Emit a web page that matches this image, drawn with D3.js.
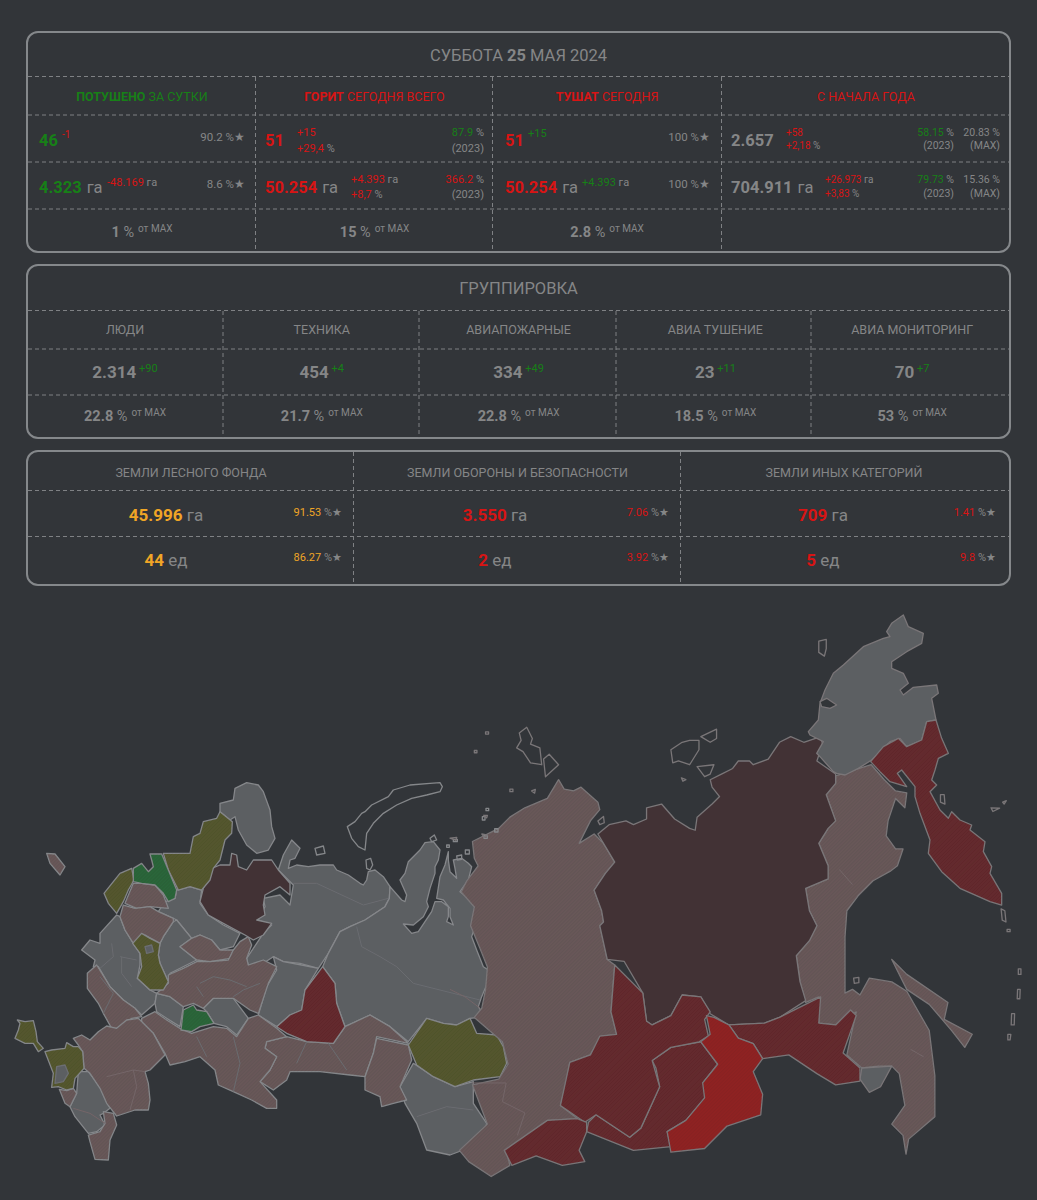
<!DOCTYPE html>
<html>
<head>
<meta charset="utf-8">
<script src="https://cdn.jsdelivr.net/npm/d3@7"></script>
<style>
  html, body { margin: 0; background: #323539; }
  svg { display: block; font-family: Roboto, sans-serif; }
  .dash { stroke: #7f8184; stroke-width: 1; stroke-dasharray: 4 3; }
  .box { fill: none; stroke: #85888b; stroke-width: 2; }
  .g { fill: #858687; }
  .gr { fill: #178017; }
  .r { fill: #d81414; }
  .o { fill: #f0a526; }
  .b { font-weight: 700; }
</style>
</head>
<body>
<svg id="chart" width="1037" height="1200"></svg>
<script>
// top panel
const dateTitle = [['СУББОТА ', 'g'], ['25', 'g b'], [' МАЯ 2024', 'g']];
const topHeaders = [
  [['ПОТУШЕНО', 'gr b'], [' ЗА СУТКИ', 'gr']],
  [['ГОРИТ', 'r b'], [' СЕГОДНЯ ВСЕГО', 'r']],
  [['ТУШАТ', 'r b'], [' СЕГОДНЯ', 'r']],
  [['С НАЧАЛА ГОДА', 'r']]
];
const topCounts = ['46', '51', '51', '2.657'];
const topCountClass = ['gr', 'r', 'r', 'g'];
const topCountDelta = ['-1', '+15', '+15', '+58'];
const topCountDeltaClass = ['r', 'r', 'gr', 'r'];
const topCountDeltaPct = ['', '+29,4', '', '+2,18'];
const topCountShare = ['90.2', '87.9', '100', '58.15'];
const topAreas = ['4.323', '50.254', '50.254', '704.911'];
const topAreaDelta = ['-48.169', '+4.393', '+4.393', '+26.973'];
const topAreaDeltaPct = ['', '+8,7', '', '+3,83'];
const topAreaShare = ['8.6', '366.2', '100', '79.73'];
const topMaxCount = '20.83';
const topMaxArea = '15.36';
const topOfMax = ['1', '15', '2.8'];

// force grouping panel
const forceTitle = 'ГРУППИРОВКА';
const forceHeaders = ['ЛЮДИ', 'ТЕХНИКА', 'АВИАПОЖАРНЫЕ', 'АВИА ТУШЕНИЕ', 'АВИА МОНИТОРИНГ'];
const forceValues = ['2.314', '454', '334', '23', '70'];
const forceDelta = ['+90', '+4', '+49', '+11', '+7'];
const forceOfMax = ['22.8', '21.7', '22.8', '18.5', '53'];

// land panel
const landHeaders = ['ЗЕМЛИ ЛЕСНОГО ФОНДА', 'ЗЕМЛИ ОБОРОНЫ И БЕЗОПАСНОСТИ', 'ЗЕМЛИ ИНЫХ КАТЕГОРИЙ'];
const landClass = ['o', 'r', 'r'];
const landArea = ['45.996', '3.550', '709'];
const landAreaPct = ['91.53', '7.06', '1.41'];
const landCount = ['44', '2', '5'];
const landCountPct = ['86.27', '3.92', '9.8'];

// map outlines in sheets of map units
const westGrey = [
  [[660,100],[700,90],[705,55],[740,38],[775,45],[790,65],[810,120],[815,170],[825,205],[805,240],[770,250],[740,225],[715,180],[705,140],[690,150],[660,125]],
  [[875,210],[900,235],[885,265],[870,270],[865,295],[890,285],[925,290],[960,285],[1000,285],[1010,300],[1045,315],[1080,340],[1090,345],[1100,330],[1105,305],[1125,300],[1150,320],[1170,350],[1168,385],[1155,410],[1095,450],[1050,470],[1020,485],[985,550],[955,595],[900,580],[850,575],[820,560],[790,580],[745,590],[740,565],[770,520],[790,490],[815,465],[775,450],[795,410],[790,385],[840,375],[870,405],[880,345],[835,300],[850,255]],
  [[1170,350],[1205,390],[1215,395],[1220,375],[1200,330],[1215,310],[1225,275],[1260,240],[1275,218],[1300,215],[1320,240],[1315,270],[1305,290],[1305,310],[1290,355],[1280,395],[1285,410],[1270,440],[1240,465],[1210,462],[1235,490],[1255,485],[1295,425],[1305,395],[1325,395],[1345,410],[1345,440],[1340,455],[1360,465],[1350,440],[1350,415],[1330,390],[1310,385],[1320,320],[1335,285],[1345,245],[1345,270],[1350,305],[1370,325],[1365,295],[1360,270],[1385,265],[1405,280],[1415,290],[1405,330],[1380,365],[1425,400],[1425,470],[1415,500],[1430,540],[1450,590],[1465,600],[1462,640],[1445,680],[1435,710],[1455,740],[1410,745],[1370,765],[1330,760],[1280,745],[1225,815],[1170,770],[1110,735],[1035,770],[1010,700],[1005,640],[968,590],[985,550],[1020,485],[1050,470],[1095,450],[1155,410],[1168,385]],
  [[820,560],[850,575],[905,585],[955,595],[915,660],[905,720],[870,735],[830,770],[775,735],[800,650],[830,600]],
  [[1240,880],[1300,920],[1365,950],[1420,935],[1420,1000],[1460,1060],[1450,1110],[1390,1140],[1350,1155],[1280,1140],[1250,1060],[1215,1000],[1200,950]]
];
const centreGrey = [
  [[255,185],[285,175],[290,150],[330,140],[365,150],[360,190],[385,225],[430,255],[480,280],[460,320],[420,330],[395,300],[360,285],[335,295],[290,240],[280,235],[235,215]],
  [[110,225],[120,230],[135,270],[160,310],[180,340],[180,375],[172,415],[210,450],[230,460],[225,490],[185,525],[165,505],[130,480],[90,440],[55,380],[40,380],[45,360],[5,330],[30,300],[60,310],[60,280]],
  [[240,310],[250,290],[280,245],[290,240],[335,295],[300,320],[350,360],[270,400],[265,425],[240,370],[235,345]],
  [[230,460],[270,470],[310,500],[300,560],[260,535],[230,515],[225,490]],
  [[370,505],[400,475],[460,475],[505,535],[470,585],[440,560],[402,550],[380,515]],
  [[195,320],[215,315],[220,335],[200,340]]
];
const southGrey = [
  [[305,165],[335,130],[340,70],[365,60],[395,85],[425,115],[460,165],[415,190],[310,195]],
  [[205,215],[235,215],[270,260],[300,325],[280,340],[270,345],[285,375],[260,395],[235,400],[195,350],[180,320],[200,280]],
  [[140,200],[165,195],[175,220],[160,245],[135,250]]
];
const westPink = [
  [[860,800],[920,815],[1000,820],[1035,770],[1110,735],[1170,770],[1225,820],[1130,800],[1120,850],[1095,920],[1050,915],[960,905],[870,905],[860,930],[820,960],[780,935],[810,900],[830,860],[795,835],[800,815]],
  [[1130,805],[1225,825],[1235,870],[1200,950],[1220,990],[1180,1000],[1145,1010],[1140,980],[1095,960],[1095,920],[1120,850]],
  [[425,745],[465,725],[500,750],[540,775],[575,790],[640,770],[680,775],[710,800],[745,745],[775,735],[830,775],[860,800],[800,815],[795,835],[830,860],[810,900],[780,935],[830,990],[830,1015],[800,1015],[755,990],[700,965],[655,945],[645,900],[600,860],[555,875],[510,885],[495,850],[460,790],[425,765]],
  [[140,250],[165,252],[195,290],[180,315],[150,280]]
];
const centrePink = [
  [[160,130],[185,130],[225,135],[250,165],[265,205],[210,200],[170,205],[135,190]],
  [[120,230],[130,195],[165,205],[210,200],[235,215],[280,235],[280,245],[250,290],[240,310],[195,285],[160,310],[135,270]],
  [[300,320],[335,295],[360,285],[395,300],[420,330],[460,330],[450,355],[390,365],[350,360]],
  [[265,405],[310,385],[350,365],[390,365],[445,360],[460,330],[480,305],[505,290],[515,315],[500,355],[505,375],[550,360],[590,380],[565,430],[535,520],[510,510],[460,475],[400,475],[370,505],[340,490],[310,500],[270,470],[230,460],[265,430]],
  [[22,400],[50,375],[90,440],[130,480],[165,505],[185,530],[155,535],[120,565],[95,565],[70,520],[55,490],[22,445]]
];
const southPink = [
  [[190,115],[215,105],[240,120],[265,95],[290,78],[320,85],[350,60],[385,55],[430,100],[465,165],[420,210],[405,215],[415,250],[420,300],[415,330],[375,330],[320,348],[290,310],[270,265],[240,220],[222,205],[218,155],[205,135]],
  [[235,405],[270,395],[285,370],[280,335],[310,340],[320,375],[300,420],[295,480],[255,478],[240,425]],
  [[148,268],[170,272],[190,265],[200,280],[180,320],[165,310]]
];
const centreMaroon = [
  [[395,85],[420,75],[450,75],[455,40],[470,45],[475,80],[500,90],[520,60],[575,60],[595,90],[630,130],[630,165],[600,140],[555,165],[550,195],[555,225],[530,240],[575,250],[550,285],[520,300],[495,285],[430,250],[385,225],[360,185],[370,145]]
];
const westDarkRed = [
  [[968,590],[1005,640],[1010,700],[1035,770],[1000,820],[920,815],[860,790],[830,770],[870,735],[905,720],[915,660]]
];
const westOlive = [
  [[660,125],[697,155],[695,190],[675,210],[660,270],[640,295],[630,330],[605,360],[570,350],[535,360],[505,300],[490,250],[570,250],[580,200],[600,190],[610,155],[650,145]],
  [[1280,745],[1330,760],[1370,765],[1410,745],[1430,790],[1490,795],[1510,830],[1520,880],[1500,920],[1420,930],[1365,950],[1300,920],[1250,885],[1225,825]]
];
const centreOlive = [
  [[155,85],[162,120],[145,150],[130,185],[110,220],[85,190],[72,160],[100,125],[120,100]],
  [[185,280],[210,295],[240,310],[235,345],[240,370],[265,425],[250,450],[210,450],[172,415],[185,380],[180,340],[158,310]]
];
const southOlive = [
  [[22,60],[45,65],[70,62],[78,95],[82,125],[100,145],[85,155],[70,130],[45,130],[15,115],[25,90],[30,70]],
  [[105,155],[125,150],[165,145],[170,128],[190,140],[205,140],[218,155],[222,205],[195,235],[190,265],[170,270],[145,260],[125,262],[130,220]]
];
const centreGreen = [
  [[210,42],[245,42],[265,90],[290,150],[285,175],[265,185],[250,160],[225,135],[185,130],[160,125],[160,85],[185,70],[205,95],[220,80],[215,60]],
  [[310,510],[340,495],[350,510],[380,515],[402,550],[360,560],[335,575],[303,570]]
];
const eastPink = [
  [[290,480],[305,505],[330,510],[350,500],[395,540],[400,560],[375,590],[345,650],[385,625],[410,650],[440,700],[415,730],[385,775],[405,830],[410,860],[400,870],[420,960],[440,975],[430,1100],[445,1160],[405,1165],[375,1215],[320,1235],[310,1290],[295,1350],[340,1385],[260,1390],[150,1470],[160,1510],[110,1540],[50,1500],[25,1470],[100,1400],[60,1295],[130,1280],[155,1240],[140,1180],[65,1115],[85,1090],[95,1040],[100,980],[80,930],[55,870],[65,820],[30,780],[45,750],[75,710],[65,690],[60,645],[130,610],[160,580],[200,555],[260,530]],
  [[1030,470],[1125,440],[1160,480],[1190,510],[1220,515],[1215,555],[1190,530],[1170,590],[1165,630],[1190,665],[1210,665],[1195,710],[1175,725],[1130,750],[1090,790],[1060,830],[1055,900],[1055,1050],[1075,1040],[1095,1055],[1120,1010],[1180,1020],[1220,1045],[1280,1150],[1295,1270],[1295,1380],[1225,1440],[1218,1480],[1210,1430],[1180,1400],[1215,1350],[1200,1265],[1180,1245],[1145,1245],[1100,1250],[1060,1215],[1085,1100],[1030,1135],[985,1130],[985,1060],[950,1075],[935,1020],[925,950],[960,910],[980,870],[960,830],[950,770],[1010,745],[1010,710],[985,650],[1010,610],[1030,590],[1005,520],[1030,490]],
  [[1180,960],[1220,1000],[1330,1075],[1320,1120],[1395,1160],[1375,1195],[1340,1150],[1280,1080],[1220,1040]]
];
const eastMaroon = [
  [[395,625],[425,600],[470,590],[490,600],[525,585],[525,555],[565,545],[600,585],[640,610],[655,615],[660,580],[700,545],[720,525],[700,500],[695,480],[725,465],[755,450],[770,430],[800,430],[810,440],[850,425],[880,380],[910,365],[945,380],[990,365],[995,385],[980,430],[1030,465],[1030,490],[1005,520],[1030,590],[1010,610],[985,650],[1010,710],[1010,745],[950,770],[960,830],[980,870],[960,910],[925,950],[935,1020],[950,1070],[880,1115],[840,1130],[745,1135],[695,1105],[670,1060],[620,1055],[590,1110],[540,1135],[525,1125],[515,1050],[465,965],[420,960],[400,870],[410,860],[405,830],[385,775],[415,730],[440,700],[410,650]]
];
const eastGrey = [
  [[1100,1250],[1180,1245],[1150,1300],[1120,1315],[1095,1280]]
];
const chukotkaGrey = [
  [[25,365],[55,330],[60,280],[75,240],[100,190],[130,165],[190,110],[250,85],[270,80],[260,65],[275,40],[310,15],[325,50],[370,70],[365,100],[320,125],[275,155],[275,175],[310,190],[325,220],[300,240],[310,255],[340,232],[410,225],[415,250],[395,265],[408,330],[380,335],[365,390],[320,410],[300,385],[270,395],[215,450],[175,475],[135,495],[110,490],[100,485],[60,440],[50,430],[70,395],[30,375]]
];
const chukotkaWater = [
  [[60,275],[80,265],[110,285],[90,295],[65,290]]
];
const chukotkaDarkRed = [
  [[380,335],[408,330],[425,385],[445,430],[415,445],[405,480],[395,510],[410,525],[390,545],[420,600],[445,625],[455,605],[480,630],[515,645],[510,660],[555,695],[550,725],[575,770],[570,790],[605,850],[605,885],[570,875],[480,835],[425,785],[385,730],[390,690],[360,610],[345,560],[345,530],[305,480],[292,490],[320,530],[270,515],[240,485],[212,455],[250,410],[295,385],[320,410],[365,390]]
];
const eastDarkRed = [
  [[745,1135],[840,1130],[880,1115],[990,1060],[985,1130],[1030,1135],[1070,1095],[1085,1110],[1050,1210],[1095,1250],[1095,1285],[1030,1295],[980,1265],[905,1215],[835,1225],[810,1185],[770,1170]],
  [[540,1230],[590,1195],[670,1180],[715,1240],[675,1290],[690,1320],[630,1390],[580,1420],[590,1460],[490,1470],[440,1450],[365,1420],[370,1395],[390,1375],[480,1435],[510,1410],[560,1300],[550,1250]],
  [[440,975],[515,1050],[525,1125],[540,1135],[590,1110],[620,1055],[670,1060],[695,1100],[680,1120],[690,1165],[665,1180],[590,1195],[540,1230],[560,1300],[510,1410],[480,1435],[390,1375],[360,1395],[295,1350],[320,1235],[375,1215],[400,1165],[445,1160],[430,1100]],
  [[145,1470],[260,1390],[340,1385],[365,1395],[365,1420],[345,1470],[360,1500],[300,1510],[230,1485],[165,1510]]
];
const eastRed = [
  [[685,1110],[705,1115],[745,1135],[770,1170],[810,1185],[835,1225],[810,1260],[835,1320],[830,1375],[740,1405],[680,1465],[590,1475],[580,1420],[630,1390],[680,1330],[675,1290],[715,1240],[670,1180],[695,1160]]
];
// islands are only outlined
const westIslands = [
  [[1042,170],[1065,155],[1085,130],[1095,125],[1115,105],[1165,80],[1180,60],[1230,45],[1290,40],[1320,38],[1327,50],[1320,65],[1280,75],[1235,85],[1190,105],[1150,130],[1120,160],[1100,190],[1095,240],[1075,230],[1055,205]],
  [[945,235],[970,228],[975,250],[950,255]],
  [[1098,270],[1112,265],[1118,285],[1110,300],[1100,295]],
  [[1290,205],[1303,195],[1310,210],[1295,215]],
  [[1458,115],[1466,115],[1466,122],[1458,122]],[[1447,140],[1455,140],[1455,150],[1447,150]],
  [[1452,197],[1462,197],[1462,205],[1452,205]],[[1484,176],[1494,176],[1494,186],[1484,186]],
  [[1360,208],[1372,208],[1372,215],[1360,215]],[[1340,225],[1348,225],[1348,232],[1340,232]],
  [[1396,240],[1408,240],[1408,252],[1396,252]],[[1370,258],[1385,255],[1385,268],[1372,270]]
];
const eastIslands = [
  [[185,355],[205,340],[220,370],[215,385],[240,395],[245,440],[215,435],[195,405],[178,395],[190,375]],
  [[250,425],[265,412],[290,440],[255,472]],
  [[590,400],[620,380],[640,375],[665,375],[665,400],[640,440],[610,430],[595,435]],
  [[670,365],[712,345],[712,370],[695,380]],
  [[660,445],[705,440],[695,465],[680,472]],
  [[618,475],[630,480],[622,484]],
  [[395,590],[410,578],[412,595],[400,600]],
  [[985,110],[1005,105],[1005,130],[1000,150],[985,140]],
  [[1310,520],[1320,520],[1322,545],[1310,540]],
  [[1445,555],[1468,556],[1450,565]],[[1476,540],[1486,536],[1480,545]],
  [[1472,825],[1482,830],[1485,860],[1475,855]],
  [[1488,880],[1496,880],[1496,886],[1488,886]],
  [[1518,985],[1525,985],[1525,1000],[1518,1000]],
  [[1516,1040],[1523,1040],[1522,1065],[1515,1065]],
  [[1500,1105],[1508,1105],[1507,1135],[1499,1135]],
  [[1490,1160],[1498,1160],[1496,1175],[1490,1175]],
  [[1078,1010],[1092,1008],[1092,1022],[1080,1024]],
  [[95,352],[103,352],[103,358],[95,358]],[[65,402],[72,402],[72,408],[65,408]],
  [[160,505],[168,505],[168,512],[160,512]],[[218,510],[228,506],[226,516]],
  [[90,575],[100,575],[98,582]],[[85,625],[100,628],[92,634]],[[0,636],[18,634],[16,642]]
];
// faint inner borders
const westInner = [
  [[880,340],[950,340],[1090,405],[1165,385]],
  [[1070,470],[1085,530],[1140,560],[1190,590],[1240,640],[1440,690]],
  [[1250,1040],[1340,1010],[1420,1020]],
  [[590,800],[620,860]],[[700,800],[720,880],[700,965]],
  [[920,815],[890,880]],[[985,820],[1040,900]]
];
const centreInner = [
  [[95,310],[100,350],[60,385]],[[120,350],[170,360]],[[125,350],[125,400],[155,440]],
  [[360,430],[400,410],[450,420],[500,440]],[[370,470],[350,440]],[[460,470],[490,450],[540,430]],
  [[60,410],[100,460],[70,520]]
];
const southInner = [
  [[290,230],[370,210],[405,215]],[[370,210],[380,260],[360,330]],[[190,325],[240,340],[285,370]]
];
const eastInner = [
  [[60,1290],[150,1290],[140,1340],[200,1370],[180,1430]],
  [[1040,720],[1075,760]],
  [[1230,1200],[1265,1220]],
  [[0,1040],[40,1060],[80,1090]]
];

const svg = d3.select('#chart');

function runs(x, y, anchor, size, parts) {
  const t = svg.append('text').attr('x', x).attr('y', y).attr('text-anchor', anchor).attr('font-size', size);
  parts.forEach(p => {
    const s = t.append('tspan').attr('class', p[1]).text(p[0]);
    if (p[2]) s.attr('font-size', p[2]);
    if (p[3]) s.attr('dy', p[3]);
    if (p[4]) s.attr('dx', p[4]);
  });
  return t;
}

function panel(y0, y1, hLines, vLines) {
  svg.append('rect').attr('class', 'box').attr('x', 27).attr('y', y0).attr('width', 983).attr('height', y1 - y0).attr('rx', 11);
  hLines.forEach(y => svg.append('line').attr('class', 'dash').attr('x1', 28).attr('x2', 1009).attr('y1', y).attr('y2', y));
  vLines.forEach(v => svg.append('line').attr('class', 'dash').attr('x1', v[0]).attr('x2', v[0]).attr('y1', v[1]).attr('y2', y1));
}

// top panel
panel(32, 252, [76.5, 115, 162, 209], [[255.5, 77], [492.5, 77], [721.5, 77]]);
runs(518.5, 61, 'middle', 16.5, dateTitle);
const topCenter = [142, 374.5, 607, 866];
const topX = [39, 265, 505, 731];
topHeaders.forEach((h, i) => runs(topCenter[i], 100.5, 'middle', 12.5, h));

const rightEdge = [245, 484, 710, 954];
topCounts.forEach((c, i) => {
  runs(topX[i], 146, 'start', 16.5, [[c, topCountClass[i] + ' b']]);
  const dx = [62, 297, 528, 786][i];
  const size = i === 3 ? 10 : 11;
  const lower = i === 3 ? 149 : 152;
  if (topCountDeltaPct[i]) {
    runs(dx, 136, 'start', size, [[topCountDelta[i], topCountDeltaClass[i]]]);
    runs(dx, lower, 'start', size, [[topCountDeltaPct[i], 'r'], [' %', 'g']]);
    runs(rightEdge[i], 136, 'end', i === 3 ? 10.5 : 11, [[topCountShare[i], 'gr'], [' %', 'g']]);
    runs(rightEdge[i], lower, 'end', i === 3 ? 10.5 : 11, [['(2023)', 'g']]);
  } else {
    runs(dx, i ? 137 : 138, 'start', i ? 11 : 10, [[topCountDelta[i], topCountDeltaClass[i]]]);
    runs(rightEdge[i], 141, 'end', 11.5, [[topCountShare[i] + ' %★', 'g']]);
  }
});
topAreas.forEach((a, i) => {
  runs(topX[i], 193, 'start', 16.5, [[a, (i === 3 ? 'g' : topCountClass[i]) + ' b'], ['га', 'g', null, null, 5]]);
  const dx = [107, 351, 582, 825][i];
  const size = i === 3 ? 10 : 11;
  const lower = i === 3 ? 197 : 198;
  if (topAreaDeltaPct[i]) {
    runs(dx, 183, 'start', size, [[topAreaDelta[i], 'r'], [' га', 'g']]);
    runs(dx, lower, 'start', size, [[topAreaDeltaPct[i], 'r'], [' %', 'g']]);
    runs(rightEdge[i], 183, 'end', i === 3 ? 10.5 : 11, [[topAreaShare[i], i === 3 ? 'gr' : 'r'], [' %', 'g']]);
    runs(rightEdge[i], lower, 'end', i === 3 ? 10.5 : 11, [['(2023)', 'g']]);
  } else {
    runs(dx, 186, 'start', size, [[topAreaDelta[i], i ? 'gr' : 'r'], [' га', 'g']]);
    runs(rightEdge[i], 188, 'end', 11.5, [[topAreaShare[i] + ' %★', 'g']]);
  }
});
runs(1000, 136, 'end', 10.5, [[topMaxCount + ' %', 'g']]);
runs(1000, 149, 'end', 10.5, [['(MAX)', 'g']]);
runs(1000, 183, 'end', 10.5, [[topMaxArea + ' %', 'g']]);
runs(1000, 197, 'end', 10.5, [['(MAX)', 'g']]);

const ofMaxParts = v => [[v, 'g b'], [' %', 'g'], ['от MAX', 'g', 10, -5, 4]];
topOfMax.forEach((v, i) => runs(topCenter[i], 236.5, 'middle', 14.5, ofMaxParts(v)));

// force grouping panel
panel(265, 438, [310.5, 349, 395], [223, 419, 616, 811].map(x => [x, 311]));
runs(518.5, 294, 'middle', 16.5, [[forceTitle, 'g']]);
const forceCenter = x => 125 + 196.8 * x;
forceHeaders.forEach((h, i) => runs(forceCenter(i), 334, 'middle', 12.5, [[h, 'g']]));
forceValues.forEach((v, i) => runs(forceCenter(i), 378, 'middle', 17, [[v, 'g b'], [' ' + forceDelta[i], 'gr', 11, -6]]));
forceOfMax.forEach((v, i) => runs(forceCenter(i), 421, 'middle', 14.5, ofMaxParts(v)));

// land panel
panel(451, 585, [490.5, 536.5], [353.5, 680.5].map(x => [x, 452]));
const landCenter = x => 191 + 326.5 * x;
const landRight = x => 342 + 327 * x;
const valueCenter = [166, 495, 823];
landHeaders.forEach((h, i) => runs(landCenter(i), 477, 'middle', 12.5, [[h, 'g']]));
landArea.forEach((v, i) => {
  runs(valueCenter[i], 521, 'middle', 17, [[v, landClass[i] + ' b'], [' га', 'g']]);
  runs(landRight(i), 516, 'end', 11, [[landAreaPct[i], landClass[i]], [' %★', 'g']]);
});
landCount.forEach((v, i) => {
  runs(valueCenter[i], 566, 'middle', 17, [[v, landClass[i] + ' b'], [' ед', 'g']]);
  runs(landRight(i), 561, 'end', 11, [[landCountPct[i], landClass[i]], [' %★', 'g']]);
});

// map
const defs = svg.append('defs');
const hatch = defs.append('pattern').attr('id', 'hatch').attr('width', 2.5).attr('height', 2.5)
  .attr('patternUnits', 'userSpaceOnUse').attr('patternTransform', 'rotate(45)');
hatch.append('rect').attr('width', 1).attr('height', 2.5).attr('fill', '#000').attr('opacity', 0.05);
defs.append('filter').attr('id', 'soft').append('feGaussianBlur').attr('stdDeviation', 0.4);

// every sheet is a crop of the map at its own origin and zoom
function sheet(x0, y0, k) {
  const x = d3.scaleLinear().domain([0, 1000]).range([x0, x0 + 1000 / k]);
  const y = d3.scaleLinear().domain([0, 1000]).range([y0, y0 + 1000 / k]);
  return d3.line().x(d => x(d[0])).y(d => y(d[1]));
}
const westLine = sheet(0, 770, 3);
const centreLine = sheet(80, 840, 3);
const southLine = sheet(10, 1000, 3);
const chukotkaLine = sheet(800, 610, 3);
const eastLine = sheet(450, 600, 2.671);

const mapG = svg.append('g').attr('stroke-linejoin', 'round').attr('filter', 'url(#soft)');

function drawRegions(rings, line, color, edge, hatched) {
  rings.forEach(r => {
    const d = line(r) + 'Z';
    mapG.append('path').attr('d', d).attr('fill', color).attr('stroke', edge).attr('stroke-width', 1.3);
    if (hatched) mapG.append('path').attr('d', d).attr('fill', 'url(#hatch)');
  });
}

const GREY = '#5c5e62', PINK = '#685859', MAROON = '#423236', DARK = '#652a2e', RED = '#8f2224', OLIVE = '#54572e', GREEN = '#2b663a';
const EDGE = '#85878a', EDGE_EAST = '#7a7678', BG = '#323539';
drawRegions(westGrey, westLine, GREY, EDGE);
drawRegions(centreGrey, centreLine, GREY, EDGE);
drawRegions(southGrey, southLine, GREY, EDGE);
drawRegions(westPink, westLine, PINK, EDGE, true);
drawRegions(centrePink, centreLine, PINK, EDGE, true);
drawRegions(southPink, southLine, PINK, EDGE, true);
drawRegions(centreMaroon, centreLine, MAROON, EDGE);
drawRegions(westDarkRed, westLine, DARK, EDGE, true);
drawRegions(westOlive, westLine, OLIVE, EDGE, true);
drawRegions(centreOlive, centreLine, OLIVE, EDGE, true);
drawRegions(southOlive, southLine, OLIVE, EDGE, true);
drawRegions(centreGreen, centreLine, GREEN, EDGE, true);
drawRegions(southGrey.slice(2), southLine, GREY, '#6c6e72');
drawRegions(centreGrey.slice(5), centreLine, GREY, '#6c6e72');
drawRegions(eastPink, eastLine, PINK, EDGE_EAST, true);
drawRegions(eastMaroon, eastLine, MAROON, EDGE_EAST);
drawRegions(eastGrey, eastLine, GREY, EDGE_EAST);
drawRegions(chukotkaGrey, chukotkaLine, GREY, EDGE_EAST);
drawRegions(chukotkaWater, chukotkaLine, BG, EDGE_EAST);
drawRegions(chukotkaDarkRed, chukotkaLine, DARK, EDGE_EAST, true);
drawRegions(eastDarkRed, eastLine, DARK, EDGE_EAST, true);
drawRegions(eastRed, eastLine, RED, EDGE_EAST, true);
drawRegions(westIslands, westLine, 'none', EDGE);
drawRegions(eastIslands, eastLine, 'none', EDGE_EAST);
const drawInner = (rows, line, color) => rows.forEach(r =>
  mapG.append('path').attr('d', line(r)).attr('fill', 'none').attr('stroke', color));
drawInner(westInner, westLine, '#6a6c70');
drawInner(centreInner, centreLine, '#6a6c70');
drawInner(southInner, southLine, '#746668');
drawInner(eastInner, eastLine, '#746668');
</script>
</body>
</html>
